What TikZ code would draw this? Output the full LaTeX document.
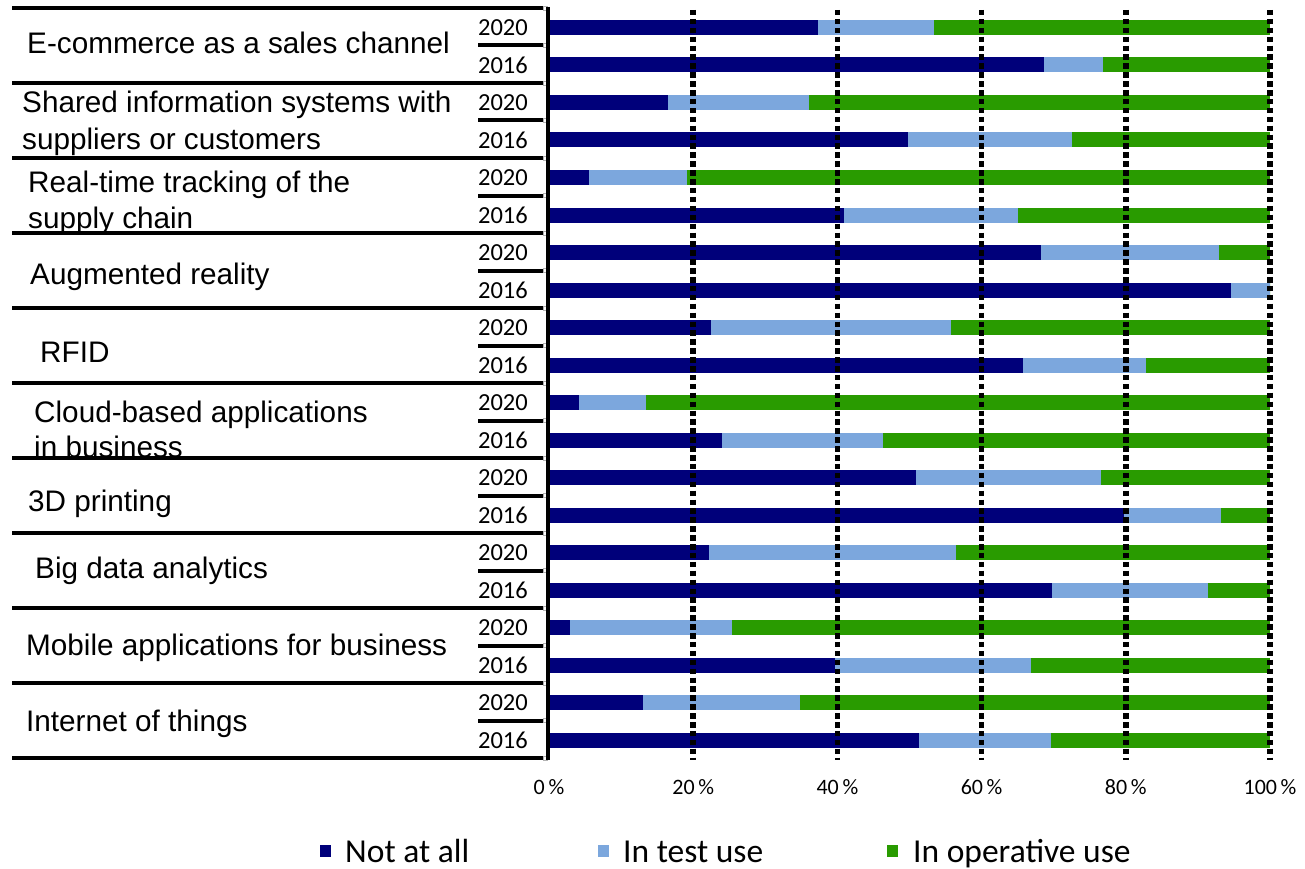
\documentclass[tikz,border=0pt]{standalone}
\usepackage{fontspec}
\setmainfont{Carlito}
\newfontfamily\arialf{Liberation Sans}
\definecolor{navybar}{RGB}{0,0,122}
\definecolor{lightbar}{RGB}{124,167,221}
\definecolor{greenbar}{RGB}{41,155,0}
\begin{document}
\begin{tikzpicture}[x=1pt,y=-1pt,
  catlabel/.style={anchor=base west, inner sep=0pt, font=\arialf\fontsize{29.7}{34}\selectfont},
  yearlabel/.style={anchor=east, inner sep=0pt, font=\fontsize{24.5}{28}\selectfont},
  ticklabel/.style={anchor=center, inner sep=0pt, font=\fontsize{22}{26}\selectfont},
  legendtext/.style={anchor=base west, inner sep=0pt, font=\fontsize{33.5}{38}\selectfont},
  catline/.style={line width=4pt},
  subline/.style={line width=4pt},
  axisline/.style={line width=3.5pt},
  gridline/.style={line width=5.5pt, dash pattern=on 5.5pt off 3.4pt},
  endmark/.style={draw=gray!60, fill=white, line width=0.6pt, minimum size=4pt, inner sep=0pt}
]
\useasboundingbox (0,0) rectangle (1305,869);
\fill[white] (0,0) rectangle (1305,869);

% bars
\foreach \k/\a/\b in {0/37.3/53.4, 1/68.6/76.9, 2/16.5/36.1, 3/49.8/72.6,
  4/5.6/19.2, 5/40.9/65.0, 6/68.3/92.9, 7/94.6/100, 8/22.4/55.8, 9/65.8/82.8,
  10/4.1/13.5, 11/24.0/46.3, 12/50.9/76.5, 13/79.8/93.2, 14/22.2/56.5, 15/69.7/91.4,
  16/2.9/25.4, 17/39.7/66.9, 18/13.1/34.8, 19/51.3/69.6}{
  \pgfmathsetmacro\c{27.5+37.5*\k}
  \fill[navybar] (549,\c-7.5) rectangle (549+7.21*\a,\c+7.5);
  \fill[lightbar] (549+7.21*\a,\c-7.5) rectangle (549+7.21*\b,\c+7.5);
  \fill[greenbar] (549+7.21*\b,\c-7.5) rectangle (1270,\c+7.5);
}

% dotted grid lines
\foreach \j in {1,...,5}{
  \draw[gridline] (549+144.2*\j,10) -- (549+144.2*\j,760);
}

% left table lines
\foreach \i in {0,...,10}{
  \draw[catline] (12,8+75*\i) -- (548,8+75*\i);
  \node[endmark] (ca\i) at (545,8+75*\i) {};
}
\foreach \i in {0,...,9}{
  \draw[subline] (478,45.5+75*\i) -- (548,45.5+75*\i);
  \node[endmark] (sa\i) at (545,45.5+75*\i) {};
}
\draw[axisline] (548,7) -- (548,760);

% year labels
\foreach \i in {0,...,9}{
  \node[yearlabel] (ya\i) at (528,27.5+75*\i) {2020};
  \node[yearlabel] (yb\i) at (528,65+75*\i) {2016};
}

% category labels
\node[catlabel] (c1) at (27,54) {E-commerce as a sales channel};
\node[catlabel] (c2a) at (22,113) {Shared information systems with};
\node[catlabel] (c2b) at (22,150) {suppliers or customers};
\node[catlabel] (c3a) at (28,193) {Real-time tracking of the};
\node[catlabel] (c3b) at (28,228) {supply chain};
\node[catlabel] (c4) at (30,284) {Augmented reality};
\node[catlabel] (c5) at (40,362) {RFID};
\node[catlabel] (c6a) at (34,422) {Cloud-based applications};
\node[catlabel] (c6b) at (34,457) {in business};
\node[catlabel] (c7) at (28,511) {3D printing};
\node[catlabel] (c8) at (35,578) {Big data analytics};
\node[catlabel] (c9) at (26,655) {Mobile applications for business};
\node[catlabel] (c10) at (26,731) {Internet of things};

% tick labels
\foreach \j/\lab in {0/0,1/20,2/40,3/60,4/80,5/100}{
  \node[ticklabel] (t\j) at (549+144.2*\j,787) {\lab\,\%};
}

% legend
\fill[navybar] (320,845) rectangle (331,857);
\node[legendtext] (l1) at (345,862) {Not at all};
\fill[lightbar] (598,845) rectangle (609,857);
\node[legendtext] (l2) at (623,862) {In test use};
\fill[greenbar] (887,845) rectangle (898,857);
\node[legendtext] (l3) at (913,862) {In operative use};
\end{tikzpicture}
\end{document}
